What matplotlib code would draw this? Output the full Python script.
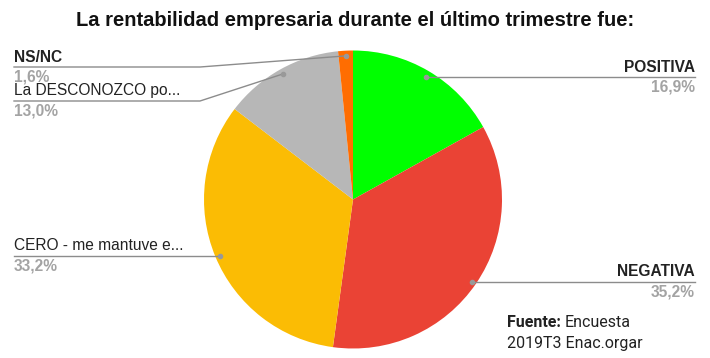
import numpy as np
import matplotlib
matplotlib.use("Agg")
import matplotlib.pyplot as plt

# datos
categorias = ["POSITIVA", "NEGATIVA", "CERO - me mantuve e...", "La DESCONOZCO po...", "NS/NC"]
valores = [16.9, 35.2, 33.2, 13.0, 1.6]
colores = ["#00ff00", "#ea4335", "#fbbc04", "#b7b7b7", "#ff6d01"]
negrita = [True, True, False, False, True]

W, H = 710, 358
fig = plt.figure(figsize=(W / 100, H / 100), dpi=100)
ax = fig.add_axes([0, 0, 1, 1])

def py(y):
    # pixel y (desde arriba) -> coordenada del eje
    return H - y

cx, cy, r = 353, py(199.5), 149
wedges, _ = ax.pie(valores, colors=colores, startangle=90, counterclock=False,
                   center=(cx, cy), radius=r, frame=True)
ax.set_xlim(0, W)
ax.set_ylim(0, H)
ax.set_aspect("equal")
ax.axis("off")

# posiciones de las etiquetas (y de la línea en px, lado)
lineas = [(77, "der"), (282, "der"), (256, "izq"), (101, "izq"), (67, "izq")]
codo_x = 200
gris_linea = "#8c8c8c"

for w, cat, v, neg, (yl, lado) in zip(wedges, categorias, valores, negrita, lineas):
    ang = np.deg2rad((w.theta1 + w.theta2) / 2)
    ax_ = cx + 0.965 * r * np.cos(ang)
    ay_ = cy + 0.965 * r * np.sin(ang)
    yline = py(yl)
    if lado == "der":
        ax.plot([ax_, 695], [yline, yline], color=gris_linea, lw=1)
        punto_y = yline
        xt, ha = 695, "right"
    else:
        if abs(ay_ - yline) > 3:
            ax.plot([ax_, codo_x, 14], [ay_, yline, yline], color=gris_linea, lw=1)
            punto_y = ay_
        else:
            ax.plot([ax_, 14], [yline, yline], color=gris_linea, lw=1)
            punto_y = yline
        xt, ha = 14, "left"
    ax.plot(ax_, punto_y, "o", color="#999999", ms=3)
    ax.text(xt, yline + 2.5, cat, ha=ha, va="bottom", fontsize=11.2,
            family="Liberation Sans", fontweight="bold" if neg else "normal",
            color="#222222")
    ax.text(xt, yline - 2.5, f"{v:.1f}%".replace(".", ","), ha=ha, va="top",
            fontsize=11.2, family="Liberation Sans", fontweight="bold",
            color="#a3a3a3")

ax.text(355, py(21), "La rentabilidad empresaria durante el último trimestre fue:",
        ha="center", va="center", fontsize=14.5, family="Liberation Sans",
        fontweight="bold", color="#111111")

ax.text(507, py(327), "Fuente:", ha="left", va="baseline", fontsize=11.5,
        family="Roboto", fontweight="bold", color="#222222")
ax.text(565, py(327), "Encuesta", ha="left", va="baseline", fontsize=11.5,
        family="Roboto", color="#222222")
ax.text(507, py(348), "2019T3 Enac.orgar", ha="left", va="baseline", fontsize=11.5,
        family="Roboto", color="#222222")

fig.savefig("out.png", dpi=100)
